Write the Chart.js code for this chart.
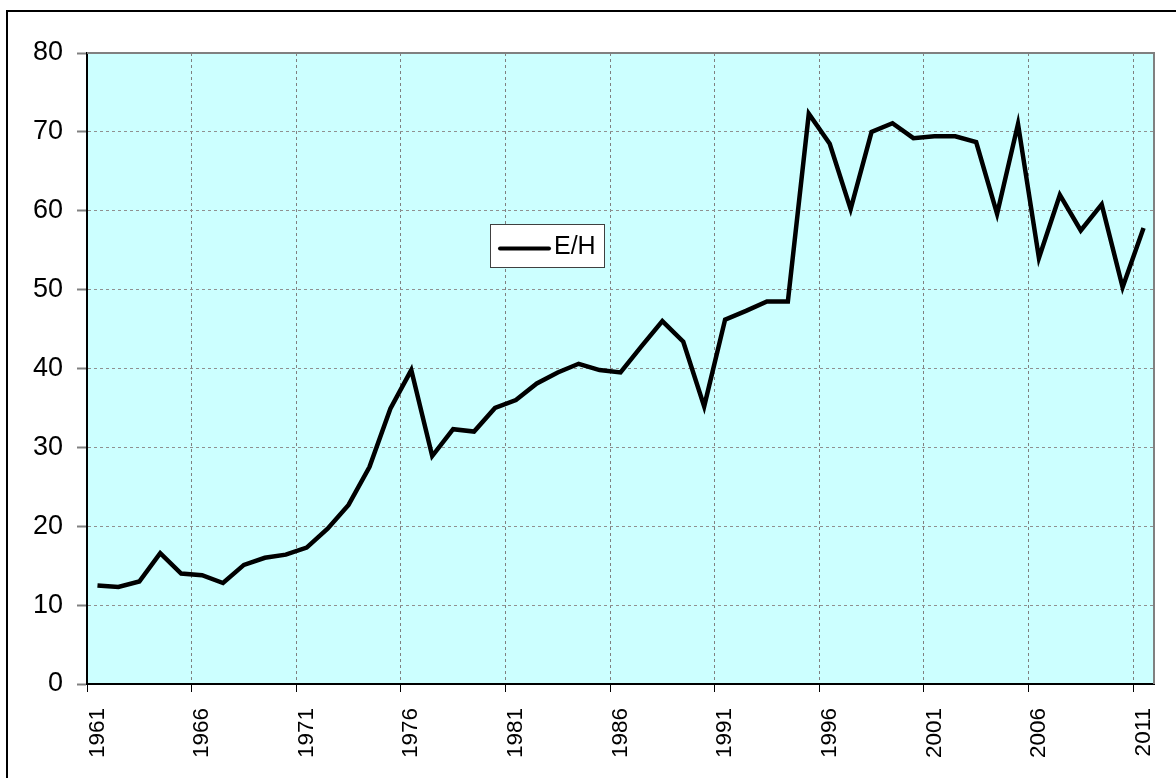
<!DOCTYPE html>
<html>
<head>
<meta charset="utf-8">
<script src="https://cdn.jsdelivr.net/npm/chart.js@4.4.1/dist/chart.umd.min.js"></script>
<style>
  html, body { margin: 0; padding: 0; background: #fff; }
  #wrap { width: 1176px; height: 778px; }
</style>
</head>
<body>
<div id="wrap"><canvas id="chart" width="1176" height="778"></canvas></div>
<script>
// Jahre (Kategorien)
const years = [
  '1961','1962','1963','1964','1965','1966','1967','1968','1969','1970',
  '1971','1972','1973','1974','1975','1976','1977','1978','1979','1980',
  '1981','1982','1983','1984','1985','1986','1987','1988','1989','1990',
  '1991','1992','1993','1994','1995','1996','1997','1998','1999','2000',
  '2001','2002','2003','2004','2005','2006','2007','2008','2009','2010',
  '2011'
];

// Serie E/H
const ehValues = [
  12.5, 12.3, 13.0, 16.6, 14.0, 13.8, 12.8, 15.1, 16.0, 16.4,
  17.3, 19.7, 22.7, 27.5, 34.9, 39.8, 28.9, 32.3, 32.0, 35.0,
  36.0, 38.1, 39.5, 40.6, 39.8, 39.5, 42.8, 46.0, 43.4, 35.2,
  46.2, 47.3, 48.5, 48.5, 72.3, 68.5, 60.2, 70.0, 71.1, 69.2,
  69.45, 69.45, 68.7, 59.6, 71.0, 54.0, 62.0, 57.5, 60.8, 50.3,
  57.8
];

const seriesLabel = 'E/H';
const yMin = 0;
const yMax = 80;
const yStep = 10;
const labelEvery = 5;

const FONT = 'Arial, "Liberation Sans", sans-serif';

// Hintergrund, Rahmen, Plotfläche
const backgroundPlugin = {
  id: 'backgroundPlugin',
  beforeDraw(chart) {
    const { ctx, chartArea: a } = chart;
    ctx.save();
    ctx.fillStyle = '#ffffff';
    ctx.fillRect(0, 0, chart.width, chart.height);
    ctx.strokeStyle = '#000000';
    ctx.lineWidth = 2;
    ctx.strokeRect(7, 11, chart.width + 40, chart.height + 40);
    ctx.fillStyle = '#ccffff';
    ctx.fillRect(a.left, a.top, a.right - a.left, a.bottom - a.top);
    ctx.restore();
  },
  beforeDatasetsDraw(chart) {
    const { ctx, chartArea: a } = chart;
    ctx.save();
    ctx.strokeStyle = '#808080';
    ctx.lineWidth = 2;
    ctx.beginPath();
    ctx.moveTo(a.left, a.top);
    ctx.lineTo(a.right, a.top);
    ctx.lineTo(a.right, a.bottom);
    ctx.stroke();
    ctx.restore();
  }
};

// Legende im Diagramm (wie im Original mittig platziert)
const innerLegend = {
  id: 'innerLegend',
  afterDraw(chart) {
    const { ctx, chartArea: a } = chart;
    const ds = chart.data.datasets[0];
    const x = a.left + 403;
    const y = a.top + 171;
    const w = 114;
    const h = 43;
    ctx.save();
    ctx.fillStyle = '#ffffff';
    ctx.fillRect(x, y, w, h);
    ctx.strokeStyle = '#404040';
    ctx.lineWidth = 1;
    ctx.strokeRect(x + 0.5, y + 0.5, w, h);
    ctx.strokeStyle = ds.borderColor;
    ctx.lineWidth = 4;
    ctx.lineCap = 'round';
    ctx.beginPath();
    ctx.moveTo(x + 10, y + h / 2 + 3);
    ctx.lineTo(x + 59, y + h / 2 + 3);
    ctx.stroke();
    ctx.fillStyle = '#000000';
    ctx.font = '25px ' + FONT;
    ctx.textBaseline = 'middle';
    ctx.fillText(ds.label, x + 64, y + h / 2 + 2);
    ctx.restore();
  }
};

new Chart(document.getElementById('chart'), {
  type: 'line',
  data: {
    labels: years,
    datasets: [{
      label: seriesLabel,
      data: ehValues,
      borderColor: '#000000',
      borderWidth: 4.5,
      pointRadius: 0,
      tension: 0,
      fill: false
    }]
  },
  options: {
    responsive: false,
    animation: false,
    devicePixelRatio: 1,
    layout: { padding: { top: 53, right: 22, left: 0, bottom: 0 } },
    plugins: {
      legend: { display: false },
      tooltip: { enabled: false }
    },
    scales: {
      x: {
        type: 'category',
        offset: true,
        afterFit(scale) {
          scale.height = 94;
          scale.paddingLeft = 0;
          scale.paddingRight = 0;
        },
        grid: {
          offset: true,
          color: ctx => (ctx.index > 0 && ctx.index % labelEvery === 0) ? '#808080' : 'rgba(0,0,0,0)',
          tickColor: ctx => (ctx.index % labelEvery === 0) ? '#000000' : 'rgba(0,0,0,0)',
          lineWidth: 1,
          tickLength: 8,
          tickWidth: 1
        },
        border: { display: true, color: '#000000', width: 2, dash: [3, 3] },
        ticks: {
          autoSkip: false,
          maxRotation: 90,
          minRotation: 90,
          padding: 16,
          color: '#000000',
          font: { family: FONT, size: 22.5 },
          callback(val, i) {
            return i % labelEvery === 0 ? this.getLabelForValue(val) : '';
          }
        }
      },
      y: {
        min: yMin,
        max: yMax,
        afterFit(scale) { scale.width = 87; },
        grid: {
          color: '#909090',
          tickColor: '#808080',
          lineWidth: 1,
          tickLength: 10,
          tickWidth: 2
        },
        border: { display: true, color: '#000000', width: 2, dash: [3, 3] },
        ticks: {
          stepSize: yStep,
          padding: 14,
          color: '#000000',
          font: { family: FONT, size: 27 }
        }
      }
    }
  },
  plugins: [backgroundPlugin, innerLegend]
});
</script>
</body>
</html>
